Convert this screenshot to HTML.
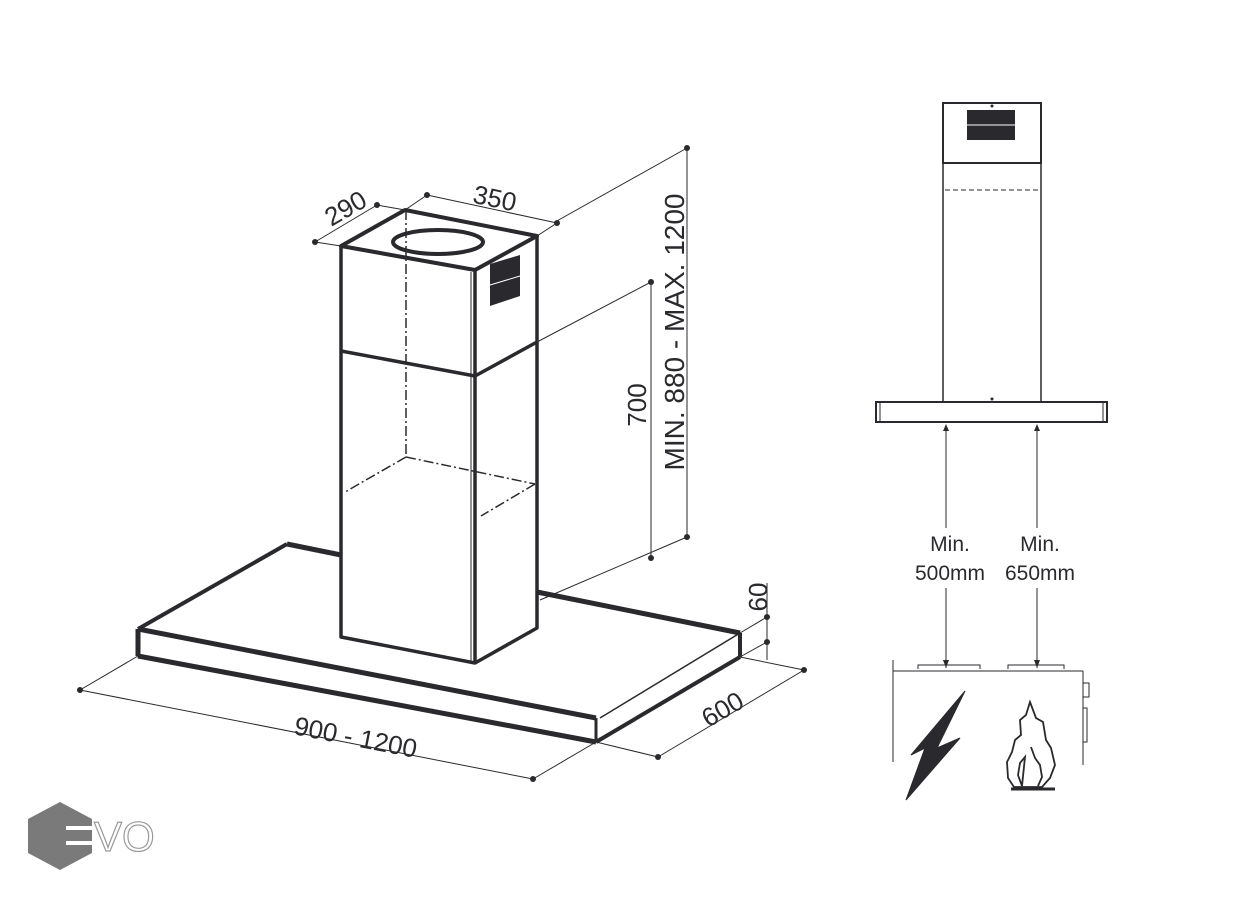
<!DOCTYPE html>
<html><head><meta charset="utf-8"><style>
html,body{margin:0;padding:0;background:#fff;}
svg{display:block;}
text{font-family:"Liberation Sans",sans-serif;fill:#2a2a2e;}
</style></head><body>
<svg width="1240" height="900" viewBox="0 0 1240 900" xmlns="http://www.w3.org/2000/svg">
<g stroke="#2a2a2e" fill="none" stroke-linejoin="round">
<path d="M287,544 L341,555" stroke-width="5"/>
<path d="M287,544 L138,629" stroke-width="4"/>
<path d="M138,629 L596,718" stroke-width="5"/>
<path d="M138,629 L138,656" stroke-width="5"/>
<path d="M138,656 L596,742" stroke-width="5"/>
<path d="M596,718 L596,742" stroke-width="3"/>
<path d="M600,718 L740,633" stroke-width="1.5"/>
<path d="M596,742 L740,657" stroke-width="4"/>
<path d="M740,633 L740,657" stroke-width="4"/>
<path d="M537,592 L740,633" stroke-width="5"/>
<path d="M341,246 L405,210 L537,236 L475,270 Z" stroke-width="4"/>
<ellipse cx="438" cy="242" rx="45" ry="12" stroke-width="4"/>
<path d="M341,246 L341,637 L475,663 L537,628 L537,236" stroke-width="3.5"/>
<path d="M475,270 L475,663" stroke-width="3.5"/>
<path d="M471,272 L471,661" stroke-width="1"/>
<path d="M341,351 L475,376 L537,342" stroke-width="3.5"/>
<path d="M490,264 L520,255 L520,296 L490,306 Z" fill="#2a2a2e" stroke="none"/>
<path d="M490,285 L520,276" stroke="#fff" stroke-width="1"/>
<g stroke-width="1.5" stroke-dasharray="10,3,2,3">
<path d="M406,210 L406,457"/>
<path d="M406,457 L345,492"/>
<path d="M406,457 L535,484"/>
<path d="M535,484 L481,516"/>
</g>
<g stroke-width="1">
<path d="M80,690 L533,779"/><path d="M80,690 L138,656"/><path d="M533,779 L596,742"/>
<path d="M658,757 L804,670"/><path d="M596,742 L658,757"/><path d="M740,657 L804,670"/>
<path d="M767,583 L767,660"/><path d="M740,633 L767,617"/><path d="M740,657 L767,642"/>
<path d="M651,282 L651,558"/><path d="M537,342 L651,282"/><path d="M540,600 L687,537"/>
<path d="M687,148 L687,537"/><path d="M555,222 L687,148"/>
<path d="M315,242 L377,205"/><path d="M315,242 L341,246"/><path d="M377,205 L405,210"/>
<path d="M427,195 L557,223"/><path d="M427,195 L405,210"/><path d="M557,223 L537,236"/>
</g>
</g>
<g fill="#2a2a2e">
<circle cx="80" cy="690" r="3"/><circle cx="533" cy="779" r="3"/>
<circle cx="658" cy="757" r="3"/><circle cx="804" cy="670" r="3"/>
<circle cx="767" cy="617" r="3"/><circle cx="767" cy="642" r="3"/>
<circle cx="651" cy="282" r="3"/><circle cx="651" cy="558" r="3"/>
<circle cx="687" cy="148" r="3"/><circle cx="687" cy="537" r="3"/>
<circle cx="315" cy="242" r="3"/><circle cx="377" cy="205" r="3"/>
<circle cx="427" cy="195" r="3"/><circle cx="557" cy="223" r="3"/>
</g>
<g font-size="26">
<text transform="translate(354,746) rotate(11)" text-anchor="middle">900 - 1200</text>
<text transform="translate(727,717) rotate(-30)" text-anchor="middle">600</text>
<text transform="translate(767,597) rotate(-90)" text-anchor="middle">60</text>
<text transform="translate(646,405) rotate(-90)" text-anchor="middle">700</text>
<text transform="translate(684,332) rotate(-90)" text-anchor="middle" font-size="28">MIN. 880 - MAX. 1200</text>
<text transform="translate(350,216) rotate(-30)" text-anchor="middle">290</text>
<text transform="translate(493,207) rotate(12)" text-anchor="middle">350</text>
</g>
<g stroke="#2a2a2e" fill="none">
<rect x="943" y="103" width="98" height="60" stroke-width="2"/>
<rect x="943" y="163" width="98" height="239" stroke-width="1.5"/>
<path d="M945,190 L1039,190" stroke-width="1" stroke-dasharray="5,3"/>
<rect x="876" y="402" width="231" height="20" stroke-width="2"/>
<path d="M880,402 L880,422 M1103,402 L1103,422" stroke-width="1"/>
<path d="M946,428 L946,668 M1037,428 L1037,668" stroke-width="1"/>
<path d="M893,660 L893,762 M893,671 L1083,671 M1083,671 L1083,765" stroke-width="1"/>
<path d="M918,669 L918,665 L980,665 L980,669 M1008,669 L1008,665 L1064,665 L1064,669" stroke-width="1"/>
<rect x="1083" y="683" width="6" height="14" stroke-width="1"/>
<rect x="1083" y="708" width="4" height="34" stroke-width="1"/>
</g>
<rect x="967" y="110" width="48" height="30" fill="#2a2a2e"/>
<path d="M967,125 L1015,125" stroke="#fff" stroke-width="1"/>
<circle cx="992" cy="106" r="1.5" fill="#2a2a2e"/><circle cx="992" cy="399" r="1.5" fill="#2a2a2e"/>
<g fill="#2a2a2e">
<path d="M946,424 L943,431 L949,431 Z M1037,424 L1034,431 L1040,431 Z"/>
<path d="M946,668 L943,660 L949,660 Z M1037,668 L1034,660 L1040,660 Z"/>
</g>
<rect x="926" y="528" width="40" height="60" fill="#fff"/>
<rect x="998" y="528" width="82" height="60" fill="#fff"/>
<g font-size="21" text-anchor="middle">
<text x="950" y="551">Min.</text><text x="950" y="580">500mm</text>
<text x="1040" y="551">Min.</text><text x="1040" y="580">650mm</text>
</g>
<path d="M965,691 L937,748 L960,738 L906,800 L925,748 L911,755 Z" fill="#2a2a2e" stroke="#2a2a2e" stroke-width="1"/>
<g stroke="#2a2a2e" fill="none" stroke-width="1.8">
<path d="M1030,702 L1036,718 L1043,722 L1046,740 L1051,748 L1055,765 L1050,778 L1042,787 L1014,787 L1008,778 L1007,762 L1012,752 L1015,740 L1021,735 L1020,720 L1026,715 Z"/>
<path d="M1031,747 L1035,758 L1040,765 L1042,777 L1038,786 M1022,786 L1018,775 L1020,763 L1025,757 Z"/>
<path d="M1011,789 L1055,789" stroke-width="3"/>
</g>
<path d="M60,802 L92,819 L92,853 L60,870 L28,853 L28,819 Z" fill="#7a7a7a"/>
<g fill="#fff">
<rect x="66" y="826" width="28" height="4"/><rect x="66" y="841" width="28" height="4"/>
</g>
<text x="94" y="851" font-size="42" style="fill:#fff;stroke:#9a9a9a;stroke-width:1.2">VO</text>
</svg>
</body></html>
